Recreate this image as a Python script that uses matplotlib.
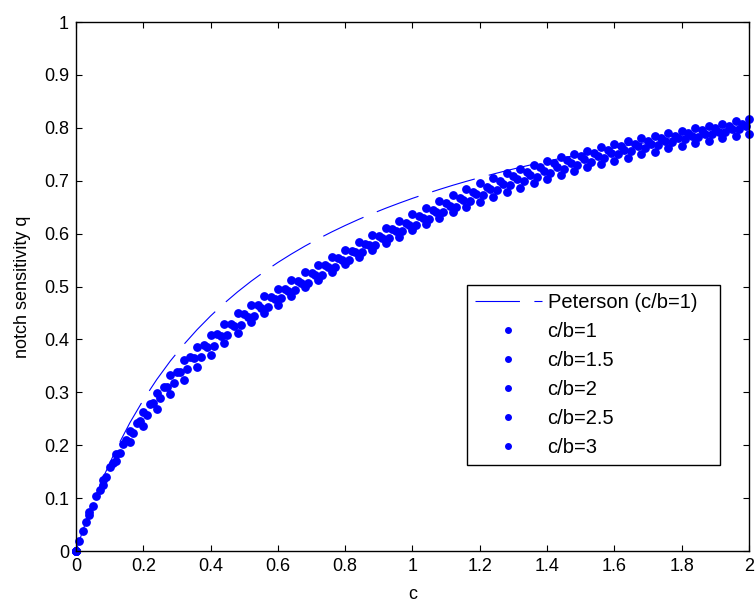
#!/usr/bin/env python3
"""Notch sensitivity q against notch size c for several c/b ratios,
with the Peterson curve for c/b = 1 drawn as a dashed reference."""

import matplotlib
matplotlib.use("Agg")
import matplotlib.pyplot as plt

BLUE = "#0000ff"

# Peterson curve (c/b = 1)
peterson_c = [0.0, 0.02, 0.04, 0.08, 0.12, 0.16, 0.20, 0.24, 0.28, 0.32, 0.36, 0.40,
              0.44, 0.48, 0.52, 0.56, 0.60, 0.64, 0.68, 0.72, 0.76, 0.80, 0.84, 0.88,
              0.92, 0.96, 1.00, 1.04, 1.08, 1.12, 1.16, 1.20, 1.24, 1.28, 1.32, 1.36,
              1.40, 1.44, 1.48, 1.52, 1.56, 1.60, 1.64, 1.68, 1.72, 1.76, 1.80, 1.84,
              1.88, 1.92, 1.96, 2.00]
peterson_q = [0.0, 0.0385, 0.0741, 0.1379, 0.1935, 0.2424, 0.2857, 0.3243, 0.3590,
              0.3902, 0.4186, 0.4444, 0.4681, 0.4898, 0.5098, 0.5283, 0.5455, 0.5614,
              0.5763, 0.5902, 0.6032, 0.6154, 0.6269, 0.6377, 0.6479, 0.6575, 0.6667,
              0.6753, 0.6835, 0.6914, 0.6988, 0.7059, 0.7126, 0.7191, 0.7253, 0.7312,
              0.7368, 0.7423, 0.7475, 0.7525, 0.7573, 0.7619, 0.7664, 0.7706, 0.7748,
              0.7788, 0.7826, 0.7863, 0.7899, 0.7934, 0.7967, 0.8]

# sample points of the computed curves
c_a = [0.0, 0.04, 0.08, 0.12, 0.16, 0.20, 0.24, 0.28, 0.32, 0.36, 0.40, 0.44, 0.48,
       0.52, 0.56, 0.60, 0.64, 0.68, 0.72, 0.76, 0.80, 0.84, 0.88, 0.92, 0.96, 1.00,
       1.04, 1.08, 1.12, 1.16, 1.20, 1.24, 1.28, 1.32, 1.36, 1.40, 1.44, 1.48, 1.52,
       1.56, 1.60, 1.64, 1.68, 1.72, 1.76, 1.80, 1.84, 1.88, 1.92, 1.96, 2.00]
c_b = [0.0, 0.02, 0.06, 0.10, 0.14, 0.18, 0.22, 0.26, 0.30, 0.34, 0.38, 0.42, 0.46,
       0.50, 0.54, 0.58, 0.62, 0.66, 0.70, 0.74, 0.78, 0.82, 0.86, 0.90, 0.94, 0.98,
       1.02, 1.06, 1.10, 1.14, 1.18, 1.22, 1.26, 1.30, 1.34, 1.38, 1.42, 1.46, 1.50,
       1.54, 1.58, 1.62, 1.66, 1.70, 1.74, 1.78, 1.82, 1.86, 1.90, 1.94, 1.98]
c_c = [0.0, 0.03, 0.07, 0.11, 0.15, 0.19, 0.23, 0.27, 0.31, 0.35, 0.39, 0.43, 0.47,
       0.51, 0.55, 0.59, 0.63, 0.67, 0.71, 0.75, 0.79, 0.83, 0.87, 0.91, 0.95, 0.99,
       1.03, 1.07, 1.11, 1.15, 1.19, 1.23, 1.27, 1.31, 1.35, 1.39, 1.43, 1.47, 1.51,
       1.55, 1.59, 1.63, 1.67, 1.71, 1.75, 1.79, 1.83, 1.87, 1.91, 1.95, 1.99]
c_d = [0.0, 0.01, 0.05, 0.09, 0.13, 0.17, 0.21, 0.25, 0.29, 0.33, 0.37, 0.41, 0.45,
       0.49, 0.53, 0.57, 0.61, 0.65, 0.69, 0.73, 0.77, 0.81, 0.85, 0.89, 0.93, 0.97,
       1.01, 1.05, 1.09, 1.13, 1.17, 1.21, 1.25, 1.29, 1.33, 1.37, 1.41, 1.45, 1.49,
       1.53, 1.57, 1.61, 1.65, 1.69, 1.73, 1.77, 1.81, 1.85, 1.89, 1.93, 1.97]
c_e = c_a

q_cb1 = [0.0, 0.074, 0.134, 0.184, 0.227, 0.263, 0.299, 0.332, 0.361, 0.386, 0.409,
         0.430, 0.449, 0.466, 0.482, 0.496, 0.512, 0.527, 0.541, 0.556, 0.569, 0.584,
         0.598, 0.611, 0.624, 0.637, 0.649, 0.661, 0.673, 0.684, 0.695, 0.705, 0.714,
         0.722, 0.730, 0.737, 0.744, 0.750, 0.757, 0.763, 0.770, 0.775, 0.780, 0.785,
         0.790, 0.794, 0.799, 0.803, 0.808, 0.812, 0.816]
q_cb15 = [0.0, 0.038, 0.104, 0.158, 0.203, 0.242, 0.277, 0.310, 0.339, 0.366, 0.389,
          0.410, 0.430, 0.448, 0.465, 0.481, 0.496, 0.511, 0.525, 0.540, 0.553, 0.567,
          0.581, 0.595, 0.608, 0.620, 0.633, 0.645, 0.657, 0.668, 0.679, 0.689, 0.699,
          0.708, 0.717, 0.725, 0.733, 0.740, 0.746, 0.753, 0.759, 0.765, 0.770, 0.775,
          0.780, 0.785, 0.790, 0.795, 0.800, 0.804, 0.808]
q_cb2 = [0.0, 0.055, 0.116, 0.167, 0.210, 0.245, 0.279, 0.310, 0.339, 0.364, 0.386,
         0.406, 0.426, 0.443, 0.460, 0.476, 0.492, 0.507, 0.522, 0.536, 0.551, 0.565,
         0.578, 0.592, 0.605, 0.617, 0.629, 0.641, 0.653, 0.664, 0.675, 0.685, 0.694,
         0.703, 0.711, 0.718, 0.726, 0.734, 0.741, 0.747, 0.753, 0.759, 0.765, 0.770,
         0.775, 0.780, 0.785, 0.788, 0.793, 0.798, 0.803]
q_cb25 = [0.0, 0.019, 0.086, 0.140, 0.186, 0.224, 0.257, 0.289, 0.318, 0.344, 0.367,
          0.388, 0.408, 0.427, 0.445, 0.461, 0.478, 0.493, 0.507, 0.522, 0.537, 0.551,
          0.565, 0.579, 0.591, 0.604, 0.616, 0.628, 0.640, 0.651, 0.662, 0.673, 0.682,
          0.691, 0.699, 0.707, 0.715, 0.722, 0.729, 0.736, 0.743, 0.750, 0.756, 0.762,
          0.768, 0.773, 0.778, 0.783, 0.788, 0.793, 0.797]
q_cb3 = [0.0, 0.069, 0.125, 0.170, 0.207, 0.237, 0.269, 0.297, 0.323, 0.348, 0.371,
         0.393, 0.413, 0.432, 0.450, 0.466, 0.483, 0.499, 0.513, 0.528, 0.542, 0.555,
         0.569, 0.582, 0.594, 0.607, 0.618, 0.629, 0.640, 0.650, 0.660, 0.669, 0.678,
         0.687, 0.695, 0.704, 0.711, 0.718, 0.725, 0.732, 0.738, 0.743, 0.750, 0.755,
         0.761, 0.766, 0.771, 0.776, 0.781, 0.785, 0.789]

series = [
    ("c/b=1", c_a, q_cb1),
    ("c/b=1.5", c_b, q_cb15),
    ("c/b=2", c_c, q_cb2),
    ("c/b=2.5", c_d, q_cb25),
    ("c/b=3", c_e, q_cb3),
]

plt.rcParams["font.family"] = ["Liberation Sans", "DejaVu Sans"]
plt.rcParams["font.size"] = 13

fig = plt.figure(figsize=(7.55, 6.03), dpi=100)
ax = fig.add_axes([0.1007, 0.0862, 0.8913, 0.8773])

ax.plot(peterson_c, peterson_q, color=BLUE, lw=0.8, dashes=(40, 13),
        label="Peterson (c/b=1)")
for label, c, q in series:
    ax.plot(c, q, linestyle="None", marker="o", ms=5.3, color=BLUE,
            mec=BLUE, label=label, clip_on=False)

ax.set_xlim(0, 2)
ax.set_ylim(0, 1)
ax.set_xticks([0, 0.2, 0.4, 0.6, 0.8, 1, 1.2, 1.4, 1.6, 1.8, 2])
ax.set_xticklabels(["0", "0.2", "0.4", "0.6", "0.8", "1", "1.2", "1.4", "1.6", "1.8", "2"])
ax.set_yticks([0, 0.1, 0.2, 0.3, 0.4, 0.5, 0.6, 0.7, 0.8, 0.9, 1])
ax.set_yticklabels(["0", "0.1", "0.2", "0.3", "0.4", "0.5", "0.6", "0.7", "0.8", "0.9", "1"])
ax.tick_params(direction="in", top=True, right=True, length=4, width=0.8,
               labelsize=13)
ax.tick_params(axis="x", pad=5)
ax.tick_params(axis="y", pad=5)
for spine in ax.spines.values():
    spine.set_linewidth(1.0)

ax.set_xlabel("c", fontsize=13, labelpad=8)
ax.set_ylabel("notch sensitivity q", fontsize=13, labelpad=9)

leg = ax.legend(loc="upper left", bbox_to_anchor=(0.581, 0.503, 0.376, 0.0),
                mode="expand", borderaxespad=0, fontsize=14.5, labelspacing=0.5,
                handlelength=3.3, handletextpad=0.3, borderpad=0.4,
                fancybox=False, framealpha=1, edgecolor="black", markerscale=0.75)
leg.get_frame().set_linewidth(1.0)

fig.savefig("out.png", dpi=100)
